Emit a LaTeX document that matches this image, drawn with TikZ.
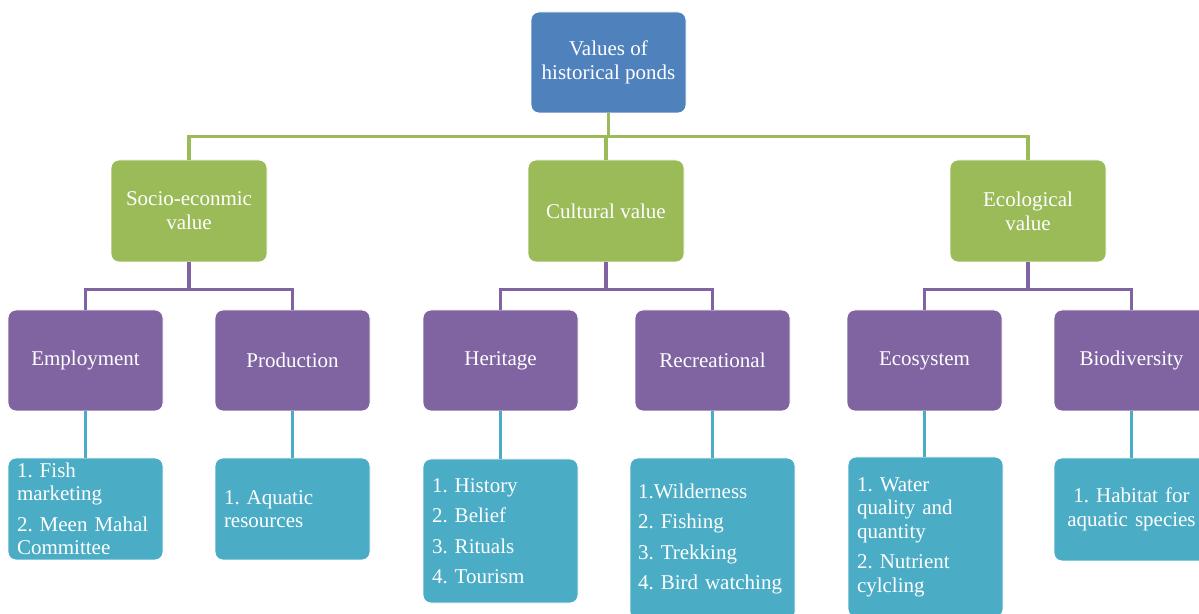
\documentclass[tikz,border=0pt]{standalone}
\usepackage{fontspec}
\setmainfont{Liberation Serif}
\definecolor{rootblue}{RGB}{79,129,189}
\definecolor{valgreen}{RGB}{155,187,89}
\definecolor{catplum}{RGB}{128,100,162}
\definecolor{listcyan}{RGB}{75,172,198}
\usepackage{xcolor}
\usepackage{tikz}
\usetikzlibrary{positioning,calc}
\frenchspacing

\begin{document}
\begin{tikzpicture}[x=1pt,y=1pt,
      bx/.style={draw=white,line width=0.8pt,rounded corners=8pt,text=white,
                 font=\fontsize{21}{24}\selectfont,align=center,
                 minimum width=155pt,minimum height=101pt,inner sep=0pt},
      rootbox/.style={bx,fill=rootblue},
      valbox/.style={bx,fill=valgreen,minimum width=156pt,minimum height=102pt},
      catbox/.style={bx,fill=catplum},
      listbox/.style={bx,fill=listcyan,align=left,inner xsep=9pt,text width=137pt,
                 font=\fontsize{21}{23.5}\selectfont\frenchspacing},
      gline/.style={line width=3.5pt,color=valgreen},
      pline/.style={line width=3.5pt,color=catplum},
      cline/.style={line width=3.5pt,color=listcyan}]
      \useasboundingbox (0,0) rectangle (1199,613);
      \clip (0,0) rectangle (1199,613);
      % top and value level
      \node[rootbox] (vh) at (608.5,550.5) {Values of\\historical ponds};
      \node[valbox] (se) at (189,402) {Socio-econmic\\value};
      \node[valbox] (cu) at (606,402) {Cultural value};
      \node[valbox] (ec) at (1028,402) {Ecological\\value};
      % categories
      \node[catbox] (em) at (85.5,252.5) {Employment};
      \node[catbox] (pr) at (292.5,252.5) {Production};
      \node[catbox] (he) at (500.5,252.5) {Heritage};
      \node[catbox] (re) at (712.5,252.5) {Recreational};
      \node[catbox] (es) at (924.5,252.5) {Ecosystem};
      \node[catbox] (bd) at (1131.5,252.5) {Biodiversity};
      % lists
      \node[listbox,minimum height=102pt] (lem) at (85.5,104)
        {1. Fish\\marketing\\[7pt]2. Meen Mahal\\Committee};
      \node[listbox,minimum height=102pt] (lpr) at (292.5,104)
        {1. Aquatic\\resources};
      \node[listbox,minimum height=144pt] (lhe) at (500.5,82)
        {1. History\\[7pt]2. Belief\\[7pt]3. Rituals\\[7pt]4. Tourism};
      \node[listbox,minimum width=165pt,inner xsep=8pt,text width=149pt,minimum height=162pt] (lre) at (712.5,74)
        {1.Wilderness\\[7pt]2. Fishing\\[7pt]3. Trekking\\[7pt]4. Bird watching};
      \node[listbox,minimum height=160pt] (les) at (925.5,76)
        {1. Water\\quality and\\quantity\\[7pt]2. Nutrient\\cylcling};
      \node[listbox,align=center,minimum height=103pt] (lbd) at (1131.5,103.5)
        {1. Habitat for\\aquatic species};
      % connectors
      \draw[gline] (vh.south) -- ++(0,-23) coordinate (gb);
      \draw[gline] (se.north) |- (gb) -| (ec.north);
      \draw[gline] (gb -| cu.north) -- (cu.north);
      \draw[pline] (se.south) -- ++(0,-27) coordinate (sb);
      \draw[pline] (em.north) |- (sb) -| (pr.north);
      \draw[pline] (cu.south) -- ++(0,-27) coordinate (cb);
      \draw[pline] (he.north) |- (cb) -| (re.north);
      \draw[pline] (ec.south) -- ++(0,-27) coordinate (eb);
      \draw[pline] (es.north) |- (eb) -| (bd.north);
      \draw[cline] (em.south) -- (lem.north);
      \draw[cline] (pr.south) -- (lpr.north);
      \draw[cline] (he.south) -- (lhe.north);
      \draw[cline] (re.south) -- (lre.north);
      \draw[cline] (es.south) -- (es.south |- les.north);
      \draw[cline] (bd.south) -- (lbd.north);
    \end{tikzpicture}
\end{document}
